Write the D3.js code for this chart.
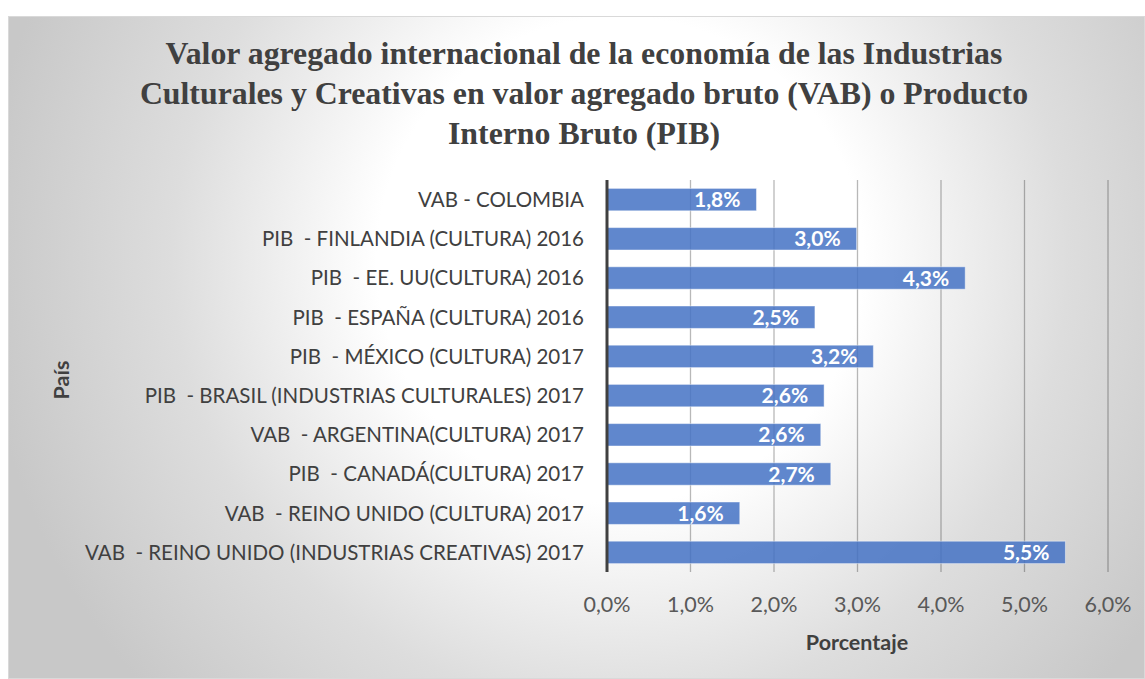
<!DOCTYPE html>
<html>
<head>
<meta charset="utf-8">
<script src="https://cdn.jsdelivr.net/npm/d3@7"></script>
<style>
  body { margin: 0; background: #fff; }
  text { white-space: pre; }
</style>
</head>
<body>
<div id="chart"></div>
<script>
// chart values, top to bottom as drawn
var categories = [
  "VAB - COLOMBIA",
  "PIB  - FINLANDIA (CULTURA) 2016",
  "PIB  - EE. UU(CULTURA) 2016",
  "PIB  - ESPAÑA (CULTURA) 2016",
  "PIB  - MÉXICO (CULTURA) 2017",
  "PIB  - BRASIL (INDUSTRIAS CULTURALES) 2017",
  "VAB  - ARGENTINA(CULTURA) 2017",
  "PIB  - CANADÁ(CULTURA) 2017",
  "VAB  - REINO UNIDO (CULTURA) 2017",
  "VAB  - REINO UNIDO (INDUSTRIAS CREATIVAS) 2017"
];
var values = [1.79, 2.99, 4.29, 2.49, 3.19, 2.6, 2.56, 2.68, 1.59, 5.49];
var xTicks = [0, 1, 2, 3, 4, 5, 6];
var titleLines = [
  "Valor agregado internacional de la economía de las Industrias",
  "Culturales y Creativas en valor agregado bruto (VAB) o Producto",
  "Interno Bruto (PIB)"
];
var xTitle = "Porcentaje";
var yTitle = "País";

var W = 1145, H = 679;
var plot = { left: 607, right: 1108, top: 180, bottom: 572 };
var sans = "Lato, 'Open Sans', sans-serif";

var svg = d3.select("#chart").append("svg")
    .attr("width", W)
    .attr("height", H);

// background gradient of the chart area
var defs = svg.append("defs");
var grad = defs.append("radialGradient")
    .attr("id", "bg")
    .attr("gradientUnits", "userSpaceOnUse")
    .attr("cx", 620).attr("cy", 260).attr("r", 640);
grad.append("stop").attr("offset", 0.38).attr("stop-color", "#ffffff");
grad.append("stop").attr("offset", 0.7).attr("stop-color", "#dddddd");
grad.append("stop").attr("offset", 1).attr("stop-color", "#c8c8c8");

svg.append("rect")
    .attr("x", 8.5).attr("y", 16.5)
    .attr("width", W - 9).attr("height", H - 17)
    .attr("fill", "url(#bg)")
    .attr("stroke", "#d9d9d9");

var x = d3.scaleLinear().domain([0, 6]).range([plot.left, plot.right]);
var y = d3.scaleBand().domain(categories).range([plot.top, plot.bottom])
    .paddingInner(0.75 / 1.75).paddingOuter(0.75 / 3.5);

// gridlines
svg.append("g").selectAll("line")
    .data(xTicks.filter(function(d) { return d > 0; }))
    .join("line")
    .attr("x1", function(d) { return x(d); })
    .attr("x2", function(d) { return x(d); })
    .attr("y1", plot.top).attr("y2", plot.bottom)
    .attr("stroke", "#000")
    .attr("stroke-opacity", 0.28)
    .attr("stroke-width", 1.3);

// bars
svg.append("g").selectAll("rect")
    .data(values)
    .join("rect")
    .attr("x", x(0))
    .attr("y", function(d, i) { return y(categories[i]); })
    .attr("width", function(d) { return x(d) - x(0); })
    .attr("height", y.bandwidth())
    .attr("fill", "#4472c4")
    .attr("fill-opacity", 0.85)
    .attr("stroke", "#ffffff")
    .attr("stroke-opacity", 0.45)
    .attr("stroke-width", 1);

// data labels
svg.append("g").selectAll("text")
    .data(values)
    .join("text")
    .attr("x", function(d) { return x(d) - 16; })
    .attr("y", function(d, i) { return y(categories[i]) + y.bandwidth() / 2; })
    .attr("dy", "0.36em")
    .attr("text-anchor", "end")
    .attr("font-family", sans)
    .attr("font-weight", "bold")
    .attr("font-size", 21)
    .attr("fill", "#ffffff")
    .text(function(d) { return d.toFixed(1).replace(".", ",") + "%"; });

// value axis line
svg.append("line")
    .attr("x1", x(0)).attr("x2", x(0))
    .attr("y1", plot.top).attr("y2", plot.bottom)
    .attr("stroke", "#404040")
    .attr("stroke-width", 3);

// category labels
svg.append("g").selectAll("text")
    .data(categories)
    .join("text")
    .attr("x", 584)
    .attr("y", function(d) { return y(d) + y.bandwidth() / 2; })
    .attr("dy", "0.36em")
    .attr("text-anchor", "end")
    .attr("font-family", sans)
    .attr("font-size", 20.5)
    .attr("fill", "#404040")
    .text(function(d) { return d; });

// tick labels
svg.append("g").selectAll("text")
    .data(xTicks)
    .join("text")
    .attr("x", function(d) { return x(d); })
    .attr("y", 612)
    .attr("text-anchor", "middle")
    .attr("font-family", sans)
    .attr("font-size", 21.5)
    .attr("fill", "#595959")
    .text(function(d) { return d.toFixed(1).replace(".", ",") + "%"; });

// axis titles
svg.append("text")
    .attr("x", 857).attr("y", 650)
    .attr("text-anchor", "middle")
    .attr("font-family", sans)
    .attr("font-weight", "bold")
    .attr("font-size", 21.5)
    .attr("fill", "#404040")
    .text(xTitle);

svg.append("text")
    .attr("transform", "translate(69,380) rotate(-90)")
    .attr("text-anchor", "middle")
    .attr("font-family", sans)
    .attr("font-weight", "bold")
    .attr("font-size", 21.5)
    .attr("fill", "#404040")
    .text(yTitle);

// title
svg.append("g").selectAll("text")
    .data(titleLines)
    .join("text")
    .attr("x", 584)
    .attr("y", function(d, i) { return 63.5 + i * 40; })
    .attr("text-anchor", "middle")
    .attr("font-family", "'Liberation Serif', 'Times New Roman', serif")
    .attr("font-weight", "bold")
    .attr("font-size", 31.8)
    .attr("fill", "#404040")
    .text(function(d) { return d; });
</script>
</body>
</html>
